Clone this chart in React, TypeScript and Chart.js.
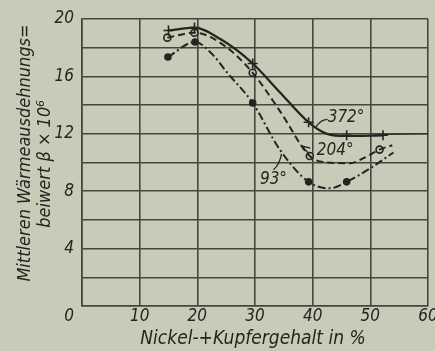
import React, { useEffect, useRef } from "react";
import { Chart, registerables } from "chart.js";

Chart.register(...registerables);

// ---- data ----
const xTicks = [0, 10, 20, 30, 40, 50, 60];
const yTicks = [4, 8, 12, 16, 20];

// 372° curve (solid)
const curve372X = [15, 19.5, 24, 29.6, 34.3, 39.3, 42.5, 45.9, 52.2];
const curve372Y = [19.2, 19.4, 18.6, 16.9, 14.9, 12.8, 12.0, 11.85, 11.9];
const mark372X = [15, 19.5, 29.6, 39.3, 45.9, 52.2];
const mark372Y = [19.2, 19.4, 16.9, 12.8, 11.9, 11.9];
const tail372X = [52.2, 60];
const tail372Y = [11.95, 12.0];

// 204° curve (dashed)
const curve204X = [14.8, 19.5, 24.5, 29.6, 34.3, 39.5, 42.5, 46.5, 48.8, 51.6, 53.8];
const curve204Y = [18.7, 19.05, 18.2, 16.25, 13.6, 10.45, 10.0, 9.95, 10.3, 10.9, 11.2];
const mark204X = [14.8, 19.5, 29.6, 39.5, 51.6];
const mark204Y = [18.7, 19.05, 16.25, 10.45, 10.9];

// 93° curve (dash-dot)
const curve93X = [14.9, 19.6, 22.7, 25.1, 29.6, 34.3, 39.3, 43, 45.9, 50, 54];
const curve93Y = [17.35, 18.4, 17.5, 16.3, 14.15, 10.9, 8.65, 8.2, 8.65, 9.6, 10.7];
const mark93X = [14.9, 19.6, 29.6, 39.3, 45.9];
const mark93Y = [17.35, 18.4, 14.15, 8.65, 8.65];

const labelTexts = ["372°", "204°", "93°"];
const labelX = [42.6, 40.7, 30.85];
const labelY = [13.1, 10.85, 8.8];

const yTitle1 = "Mittleren Wärmeausdehnungs=";
const yTitle2 = "beiwert β × 10⁶";
const xTitle = "Nickel-+Kupfergehalt in %";

const INK = "#24251f";
const BG = "#c9cab8";
const GRID = "#45473f";
const FONT = "'Liberation Sans Narrow', 'DejaVu Sans Condensed', sans-serif";

const pts = (xs: number[], ys: number[]) => xs.map((x, i) => ({ x, y: ys[i] }));

const decor = {
  id: "decor",
  beforeDraw(chart: any) {
    const { ctx, width, height } = chart;
    ctx.save();
    ctx.fillStyle = BG;
    ctx.fillRect(0, 0, width, height);
    ctx.restore();
  },
  afterDraw(chart: any) {
    const { ctx } = chart;
    const xs = chart.scales.x;
    const ys = chart.scales.y;
    const X = (v: number) => xs.getPixelForValue(v);
    const Y = (v: number) => ys.getPixelForValue(v);
    ctx.save();
    ctx.fillStyle = INK;
    ctx.strokeStyle = INK;
    ctx.font = `italic 17px ${FONT}`;
    ctx.textBaseline = "middle";
    // y tick labels
    ctx.textAlign = "right";
    yTicks.forEach((t) => ctx.fillText(String(t), 74, Y(t)));
    // x tick labels
    ctx.textAlign = "center";
    xTicks.forEach((t) => {
      const px = t === 0 ? X(t) - 13 : X(t);
      ctx.fillText(String(t), px, Y(0) + 11);
    });
    // x title
    ctx.font = `italic 19px ${FONT}`;
    ctx.fillText(xTitle, 253, 339);
    // y titles
    ctx.font = `italic 18px ${FONT}`;
    ctx.save();
    ctx.translate(25, 153);
    ctx.rotate(-Math.PI / 2);
    ctx.fillText(yTitle1, 0, 0);
    ctx.restore();
    ctx.save();
    ctx.translate(45, 164);
    ctx.rotate(-Math.PI / 2);
    ctx.fillText(yTitle2, 0, 0);
    ctx.restore();
    // curve labels
    ctx.font = `italic 17px ${FONT}`;
    ctx.textAlign = "left";
    labelTexts.forEach((t, i) => ctx.fillText(t, X(labelX[i]), Y(labelY[i])));
    // leaders
    ctx.lineWidth = 1.3;
    ctx.beginPath();
    ctx.moveTo(X(42.6), Y(13.0));
    ctx.quadraticCurveTo(X(41.5), Y(13.0), X(40.6), Y(12.5));
    ctx.stroke();
    ctx.beginPath();
    ctx.moveTo(X(39.4), Y(10.6));
    ctx.lineTo(X(38.1), Y(11.15));
    ctx.lineTo(X(39.6), Y(11.0));
    ctx.stroke();
    ctx.beginPath();
    ctx.moveTo(X(33.2), Y(9.5));
    ctx.quadraticCurveTo(X(34.2), Y(9.8), X(34.6), Y(10.6));
    ctx.stroke();
    ctx.restore();
  },
};

export default function App() {
  const ref = useRef<HTMLCanvasElement>(null);
  useEffect(() => {
    document.body.style.margin = "0";
    document.body.style.background = BG;
    const line = (data: any, dash: number[], w = 2) => ({
      type: "line",
      data,
      borderColor: INK,
      borderWidth: w,
      borderDash: dash,
      pointRadius: 0,
      tension: 0.4,
      cubicInterpolationMode: "monotone",
      fill: false,
    });
    const marks = (data: any, style: string, r: number, fillBg: boolean) => ({
      type: "scatter",
      data,
      pointStyle: style,
      pointRadius: r,
      borderColor: INK,
      backgroundColor: fillBg ? BG : INK,
      borderWidth: 1.6,
    });
    const chart = new Chart(ref.current!, {
      type: "line",
      data: {
        datasets: [
          line(pts(curve372X, curve372Y), [], 2.3),
          line(pts(tail372X, tail372Y), [], 1),
          line(pts(curve204X, curve204Y), [7, 4], 2),
          line(pts(curve93X, curve93Y), [8, 3, 2, 3], 2),
          marks(pts(mark372X, mark372Y), "cross", 5, false),
          marks(pts(mark204X, mark204Y), "circle", 3.5, true),
          marks(pts(mark93X, mark93Y), "circle", 3, false),
        ] as any,
      },
      options: {
        animation: false,
        responsive: false,
        layout: { padding: { left: 82, right: 7, top: 19, bottom: 45 } },
        plugins: { legend: { display: false }, tooltip: { enabled: false } },
        scales: {
          x: {
            type: "linear",
            min: 0,
            max: 60,
            ticks: { display: false, stepSize: 10 },
            grid: { color: GRID, lineWidth: 1.6, drawTicks: false },
            border: { color: GRID, width: 1.6 },
          },
          y: {
            type: "linear",
            min: 0,
            max: 20,
            ticks: { display: false, stepSize: 2 },
            grid: { color: GRID, lineWidth: 1.6, drawTicks: false },
            border: { color: GRID, width: 1.6 },
          },
        },
      },
      plugins: [decor],
    });
    return () => chart.destroy();
  }, []);
  return <canvas ref={ref} width={435} height={351} style={{ display: "block" }} />;
}
